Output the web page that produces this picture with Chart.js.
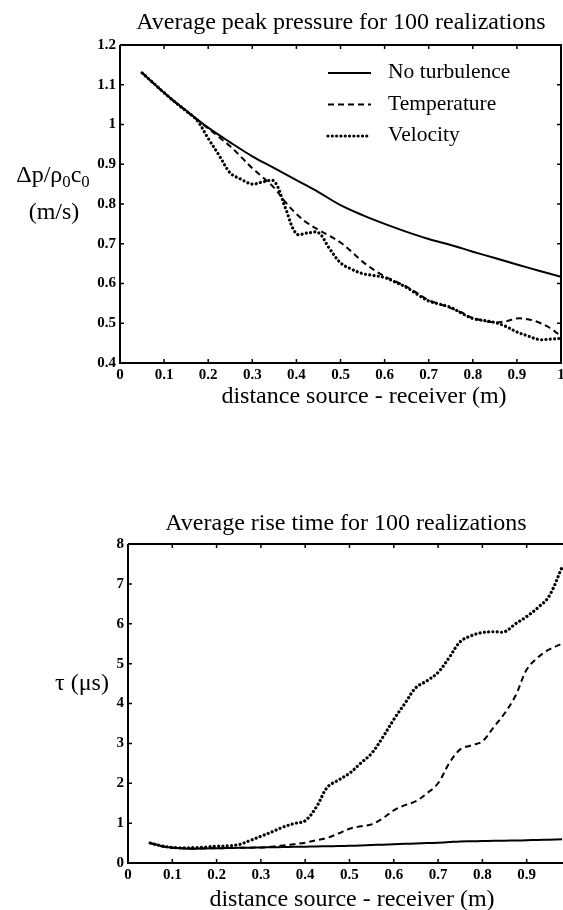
<!DOCTYPE html>
<html>
<head>
<meta charset="utf-8">
<script src="https://cdn.jsdelivr.net/npm/chart.js@4.4.0/dist/chart.umd.min.js"></script>
<style>
html, body { margin: 0; padding: 0; background: #fff; overflow: hidden; }
.box { position: relative; width: 563px; height: 455px; }
</style>
</head>
<body>
<div class="box"><canvas id="pressureChart"></canvas></div>
<div class="box"><canvas id="riseChart"></canvas></div>
<script>
// ---- data ----
var seriesNames = ['No turbulence', 'Temperature', 'Velocity'];

// top: average peak pressure
var pressureDistCoarse = [0.05,0.1,0.15,0.2,0.25,0.3,0.35,0.4,0.45,0.5,0.55,0.6,0.65,0.7,0.75,0.8,0.85,0.9,0.95,1.0];
var pressureNoTurb = [1.13,1.08,1.035,0.992,0.955,0.92,0.89,0.86,0.83,0.797,0.772,0.75,0.73,0.712,0.697,0.68,0.664,0.648,0.632,0.617];
var pressureDistFine = [0.05,0.075,0.1,0.125,0.15,0.175,0.2,0.225,0.25,0.275,0.3,0.325,0.35,0.375,0.4,0.425,0.45,0.475,0.5,0.525,
  0.55,0.575,0.6,0.625,0.65,0.675,0.7,0.725,0.75,0.775,0.8,0.825,0.85,0.875,0.9,0.925,0.95,0.975,1.0];
var pressureTemp = [1.13,1.105,1.08,1.056,1.034,1.012,0.99,0.968,0.945,0.918,0.89,0.866,0.84,0.805,0.775,0.752,0.735,0.72,0.703,0.68,
  0.655,0.635,0.618,0.605,0.592,0.575,0.558,0.548,0.538,0.527,0.513,0.506,0.502,0.505,0.512,0.51,0.502,0.488,0.468];
var pressureVel = [1.13,1.105,1.08,1.056,1.034,1.01,0.965,0.922,0.878,0.862,0.85,0.856,0.857,0.79,0.725,0.727,0.728,0.688,0.652,0.636,
  0.625,0.62,0.615,0.603,0.59,0.572,0.556,0.548,0.54,0.525,0.512,0.507,0.502,0.492,0.478,0.468,0.459,0.46,0.462];
var pressureTicksX = [0,0.1,0.2,0.3,0.4,0.5,0.6,0.7,0.8,0.9,1];
var pressureTicksY = [0.4,0.5,0.6,0.7,0.8,0.9,1,1.1,1.2];

// bottom: average rise time
var riseDist = [0.05,0.075,0.1,0.125,0.15,0.175,0.2,0.225,0.25,0.275,0.3,0.325,0.35,0.375,0.4,0.425,0.45,0.475,0.5,0.525,
  0.55,0.575,0.6,0.625,0.65,0.675,0.7,0.725,0.75,0.775,0.8,0.825,0.85,0.875,0.9,0.925,0.95,0.98];
var riseNoTurb = [0.5,0.43,0.38,0.365,0.36,0.365,0.37,0.375,0.38,0.385,0.39,0.395,0.4,0.405,0.41,0.415,0.42,0.425,0.43,0.44,
  0.45,0.46,0.47,0.48,0.49,0.5,0.51,0.525,0.54,0.545,0.55,0.555,0.56,0.565,0.57,0.578,0.585,0.595];
var riseTemp = [0.5,0.42,0.38,0.37,0.36,0.365,0.37,0.375,0.38,0.385,0.39,0.41,0.44,0.47,0.51,0.57,0.63,0.74,0.86,0.92,
  0.97,1.12,1.32,1.45,1.55,1.75,2.0,2.5,2.85,2.95,3.05,3.4,3.75,4.2,4.85,5.15,5.35,5.5];
var riseVel = [0.5,0.43,0.39,0.38,0.385,0.4,0.42,0.43,0.46,0.56,0.67,0.78,0.9,0.99,1.06,1.4,1.9,2.08,2.25,2.5,
  2.75,3.15,3.6,4.0,4.4,4.57,4.78,5.15,5.55,5.7,5.78,5.8,5.8,6.0,6.18,6.4,6.68,7.42];
var riseTicksX = [0,0.1,0.2,0.3,0.4,0.5,0.6,0.7,0.8,0.9];
var riseTicksY = [0,1,2,3,4,5,6,7,8];

// ---- styles ----
var serif = 'Liberation Serif';
var tickFont = { family: serif, size: 15, weight: 'bold' };
var lineStyles = [
  { borderDash: [], borderWidth: 2, borderCapStyle: 'butt' },
  { borderDash: [6, 4], borderWidth: 2, borderCapStyle: 'butt' },
  { borderDash: [0.01, 4.3], borderWidth: 3.2, borderCapStyle: 'round' }
];

function pts(xs, ys) {
  return xs.map(function (x, i) { return { x: x, y: ys[i] }; });
}

function makeSet(i, xs, ys) {
  var s = lineStyles[i];
  return {
    label: seriesNames[i],
    data: pts(xs, ys),
    borderColor: '#000',
    borderWidth: s.borderWidth,
    borderDash: s.borderDash,
    borderCapStyle: s.borderCapStyle,
    pointRadius: 0,
    tension: 0.35,
    fill: false
  };
}

// draws text with "_0" style subscripts
function drawRich(ctx, parts, cx, y, size) {
  var w = 0;
  parts.forEach(function (p) {
    ctx.font = (p.sub ? size * 0.7 : size) + 'px "' + serif + '"';
    p.w = ctx.measureText(p.t).width;
    w += p.w;
  });
  var x = cx - w / 2;
  ctx.textAlign = 'left';
  parts.forEach(function (p) {
    ctx.font = (p.sub ? size * 0.7 : size) + 'px "' + serif + '"';
    ctx.fillText(p.t, x, p.sub ? y + size * 0.22 : y);
    x += p.w;
  });
}

// frame, inward ticks, titles and legend
var decor = {
  id: 'decor',
  afterDraw: function (chart, args, o) {
    var ctx = chart.ctx, a = chart.chartArea;
    var xs = chart.scales.x, ys = chart.scales.y;
    ctx.save();
    ctx.strokeStyle = '#000';
    ctx.fillStyle = '#000';
    ctx.lineWidth = 2;
    ctx.beginPath();
    ctx.moveTo(a.left, a.top);
    ctx.lineTo(a.left, a.bottom);
    ctx.lineTo(a.right + (o.rightFrame ? 1 : 0), a.bottom);
    ctx.moveTo(a.left, a.top);
    ctx.lineTo(a.right + (o.rightFrame ? 1 : 0), a.top);
    if (o.rightFrame) {
      ctx.moveTo(a.right, a.top);
      ctx.lineTo(a.right, a.bottom);
    }
    ctx.stroke();

    ctx.lineWidth = 1.5;
    ctx.beginPath();
    xs.ticks.forEach(function (t) {
      var px = xs.getPixelForValue(t.value);
      ctx.moveTo(px, a.bottom); ctx.lineTo(px, a.bottom - 4);
      ctx.moveTo(px, a.top); ctx.lineTo(px, a.top + 4);
    });
    ys.ticks.forEach(function (t) {
      var py = ys.getPixelForValue(t.value);
      ctx.moveTo(a.left, py); ctx.lineTo(a.left + 4, py);
      if (o.rightFrame) { ctx.moveTo(a.right, py); ctx.lineTo(a.right - 4, py); }
    });
    ctx.stroke();

    ctx.textBaseline = 'alphabetic';
    ctx.textAlign = 'center';
    ctx.font = '24px "' + serif + '"';
    ctx.fillText(o.title, o.titleX, o.titleY);
    ctx.fillText(o.xTitle, o.xTitleX, o.xTitleY);
    o.yTitle.forEach(function (line) {
      drawRich(ctx, line.parts, line.x, line.y, 24);
    });

    if (o.legend) {
      var L = o.legend;
      chart.data.datasets.forEach(function (ds, i) {
        var yy = L.y + i * L.gap;
        ctx.save();
        ctx.lineWidth = ds.borderWidth;
        ctx.setLineDash(ds.borderDash);
        ctx.lineCap = ds.borderCapStyle;
        ctx.beginPath();
        ctx.moveTo(L.x0, yy - 5);
        ctx.lineTo(L.x1, yy - 5);
        ctx.stroke();
        ctx.restore();
        ctx.font = '21.5px "' + serif + '"';
        ctx.textAlign = 'left';
        ctx.fillText(ds.label, L.tx, yy);
      });
    }
    ctx.restore();
  }
};

function axis(min, max, tickVals, fixSize, pad, horizontal) {
  return {
    type: 'linear',
    min: min,
    max: max,
    grid: { display: false, drawTicks: false },
    border: { display: false },
    afterBuildTicks: function (s) {
      s.ticks = tickVals.map(function (v) { return { value: v }; });
    },
    afterFit: function (s) {
      if (horizontal) { s.height = fixSize; s.paddingLeft = 0; s.paddingRight = 0; }
      else { s.width = fixSize; s.paddingTop = 0; s.paddingBottom = 0; }
    },
    ticks: {
      autoSkip: false,
      maxRotation: 0,
      padding: pad,
      color: '#000',
      font: tickFont,
      callback: function (v) { return String(+v.toFixed(2)); }
    }
  };
}

function baseOptions(padding, xAxis, yAxis, decorOpts) {
  return {
    responsive: true,
    maintainAspectRatio: false,
    animation: false,
    layout: { padding: padding },
    scales: { x: xAxis, y: yAxis },
    plugins: {
      legend: { display: false },
      title: { display: false },
      tooltip: { enabled: false },
      decor: decorOpts
    }
  };
}

new Chart(document.getElementById('pressureChart'), {
  type: 'line',
  data: {
    datasets: [
      makeSet(0, pressureDistCoarse, pressureNoTurb),
      makeSet(1, pressureDistFine, pressureTemp),
      makeSet(2, pressureDistFine, pressureVel)
    ]
  },
  options: baseOptions(
    { left: 0, right: 2, top: 45, bottom: 72 },
    axis(0, 1, pressureTicksX, 20, 3, true),
    axis(0.4, 1.2, pressureTicksY, 120, 4, false),
    {
      rightFrame: true,
      title: 'Average peak pressure for 100 realizations', titleX: 341, titleY: 29,
      xTitle: 'distance source - receiver (m)', xTitleX: 364, xTitleY: 403,
      yTitle: [
        { x: 53, y: 182, parts: [{ t: 'Δp/ρ' }, { t: '0', sub: true }, { t: 'c' }, { t: '0', sub: true }] },
        { x: 54, y: 219, parts: [{ t: '(m/s)' }] }
      ],
      legend: { x0: 328, x1: 371, tx: 388, y: 78, gap: 31.5 }
    }
  ),
  plugins: [decor]
});

new Chart(document.getElementById('riseChart'), {
  type: 'line',
  data: {
    datasets: [
      makeSet(0, riseDist, riseNoTurb),
      makeSet(1, riseDist, riseTemp),
      makeSet(2, riseDist, riseVel)
    ]
  },
  options: baseOptions(
    { left: 0, right: 0, top: 89, bottom: 27 },
    axis(0, 0.982, riseTicksX, 20, 3, true),
    axis(0, 8, riseTicksY, 128, 4, false),
    {
      rightFrame: false,
      title: 'Average rise time for 100 realizations', titleX: 346, titleY: 75,
      xTitle: 'distance source - receiver (m)', xTitleX: 352, xTitleY: 451,
      yTitle: [
        { x: 82, y: 235, parts: [{ t: 'τ (μs)' }] }
      ],
      legend: null
    }
  ),
  plugins: [decor]
});
</script>
</body>
</html>
